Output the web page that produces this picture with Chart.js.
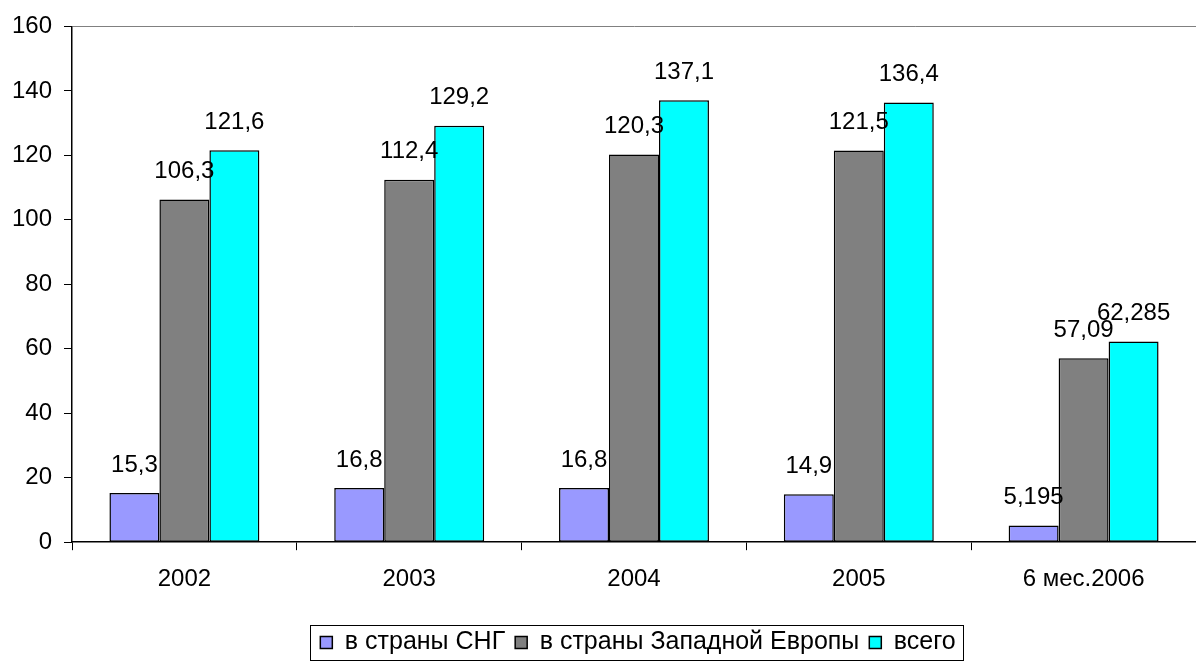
<!DOCTYPE html>
<html>
<head>
<meta charset="utf-8">
<script src="https://cdn.jsdelivr.net/npm/chart.js@4"></script>
<style>
  html, body { margin: 0; padding: 0; background: #fff; }
  #wrap { width: 1196px; height: 666px; }
</style>
</head>
<body>
<div id="wrap"><canvas id="chart" width="1196" height="666"></canvas></div>
<script>
const categories = ["2002", "2003", "2004", "2005", "6 мес.2006"];
const cisValues = [15.3, 16.8, 16.8, 14.9, 5.195];
const westValues = [106.3, 112.4, 120.3, 121.5, 57.09];
const totalValues = [121.6, 129.2, 137.1, 136.4, 62.285];
const seriesNames = ["в страны СНГ", "в страны Западной Европы", "всего"];
const yTicks = { min: 0, max: 160, step: 20 };

const FONT = "'Liberation Sans', Arial, sans-serif";

function fmt(v) {
  return String(v).replace(".", ",");
}

const valueLabels = {
  id: "valueLabels",
  afterDatasetsDraw(chart) {
    const ctx = chart.ctx;
    ctx.save();
    ctx.font = "24px " + FONT;
    ctx.fillStyle = "#000";
    ctx.textAlign = "center";
    ctx.textBaseline = "middle";
    chart.data.datasets.forEach((ds, i) => {
      chart.getDatasetMeta(i).data.forEach((bar, j) => {
        ctx.fillText(fmt(ds.data[j]), bar.x, bar.y - 28);
      });
    });
    ctx.restore();
  }
};

// legend sits a bit right of centre in the original, with a frame round it
const legendBox = {
  id: "legendBox",
  afterLayout(chart) {
    chart.legend.left += 40;
    chart.legend.right += 40;
  },
  afterDraw(chart) {
    const boxes = chart.legend.legendHitBoxes;
    if (!boxes || !boxes.length) return;
    const left = Math.min(...boxes.map(b => b.left)) - 10;
    const right = Math.max(...boxes.map(b => b.left + b.width)) + 8;
    const top = Math.min(...boxes.map(b => b.top)) - 5;
    const bottom = Math.max(...boxes.map(b => b.top + b.height)) + 5;
    const ctx = chart.ctx;
    ctx.save();
    ctx.strokeStyle = "#000";
    ctx.lineWidth = 1;
    ctx.strokeRect(Math.round(left) + 0.5, Math.round(top) + 0.5, Math.round(right - left), Math.round(bottom - top));
    ctx.restore();
  }
};

function barSet(label, data, color) {
  return {
    label,
    data,
    backgroundColor: color,
    borderColor: "#000",
    borderWidth: 1.5,
    borderSkipped: false,
    categoryPercentage: 0.667,
    barPercentage: 1
  };
}

new Chart(document.getElementById("chart"), {
  type: "bar",
  data: {
    labels: categories,
    datasets: [
      barSet(seriesNames[0], cisValues, "#9999FF"),
      barSet(seriesNames[1], westValues, "#808080"),
      barSet(seriesNames[2], totalValues, "#00FFFF")
    ]
  },
  options: {
    responsive: false,
    animation: false,
    layout: { padding: { top: 25, right: 0, bottom: 1, left: 0 } },
    plugins: {
      tooltip: { enabled: false },
      legend: {
        position: "bottom",
        labels: {
          color: "#000",
          font: { family: FONT, size: 25 },
          boxWidth: 12,
          boxHeight: 12,
          padding: 10
        }
      }
    },
    scales: {
      x: {
        afterFit(scale) { scale.height += 11; },
        grid: {
          offset: true,
          color: "rgba(0,0,0,0)",
          tickColor: "#000",
          tickLength: 8,
          drawTicks: true
        },
        border: { color: "#000", width: 1.5 },
        ticks: {
          color: "#000",
          font: { family: FONT, size: 24 },
          padding: 15,
          maxRotation: 0
        }
      },
      y: {
        min: yTicks.min,
        max: yTicks.max,
        afterFit(scale) { scale.width = 72; },
        grid: {
          color: ctx => ctx.tick && ctx.tick.value === yTicks.max ? "#808080" : "rgba(0,0,0,0)",
          tickColor: "#000",
          tickLength: 8
        },
        border: { color: "#000", width: 1.5 },
        ticks: {
          stepSize: yTicks.step,
          color: "#000",
          font: { family: FONT, size: 24 },
          padding: 12
        }
      }
    }
  },
  plugins: [valueLabels, legendBox]
});
</script>
</body>
</html>
